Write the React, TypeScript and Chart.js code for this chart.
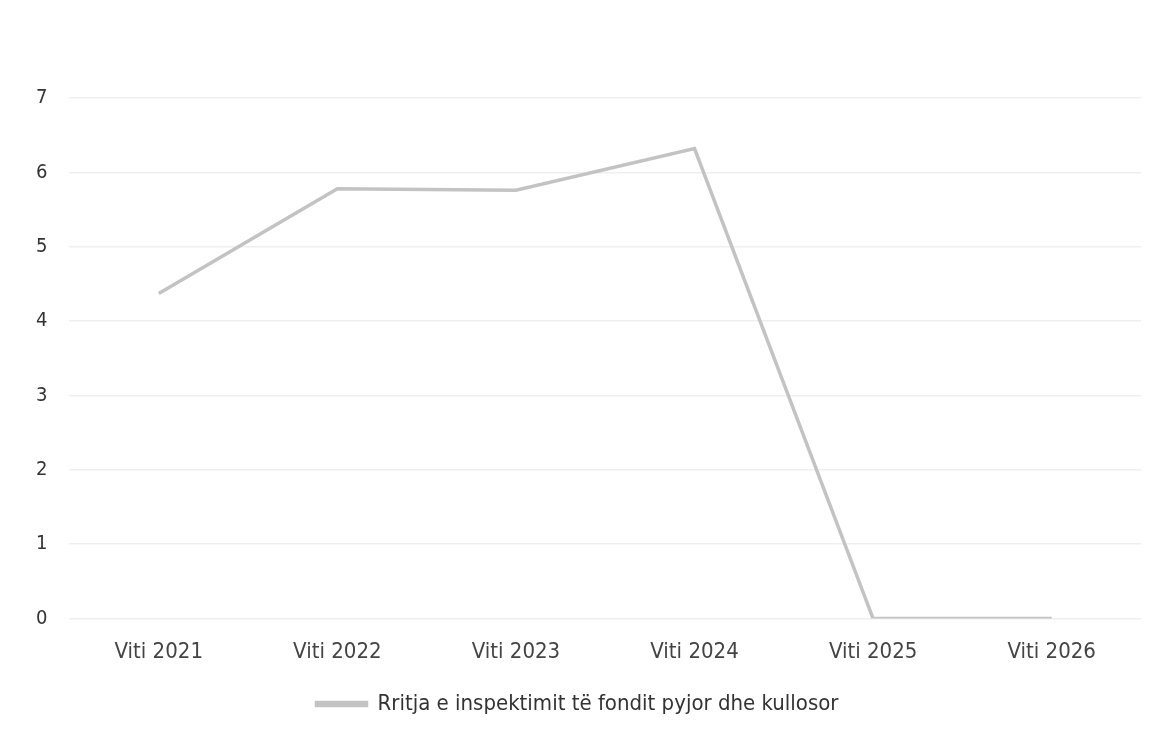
import React, { useEffect, useRef } from "react";
import { Chart, registerables } from "chart.js";

Chart.register(...registerables);

const categories = ["Viti 2021", "Viti 2022", "Viti 2023", "Viti 2024", "Viti 2025", "Viti 2026"];
const seriesLabel = "Rritja e inspektimit të fondit pyjor dhe kullosor";
const seriesValues = [4.37, 5.78, 5.76, 6.32, 0, 0];
const yTicks = [0, 1, 2, 3, 4, 5, 6, 7];

const FONT = "'DejaVu Sans Condensed', 'DejaVu Sans', sans-serif";

export default function App() {
  const ref = useRef<HTMLCanvasElement | null>(null);
  useEffect(() => {
    document.body.style.margin = "0";
    const ctx = ref.current!;
    const chart = new Chart(ctx, {
      type: "line",
      data: {
        labels: categories,
        datasets: [
          {
            label: seriesLabel,
            data: seriesValues,
            borderColor: "#c3c3c3",
            backgroundColor: "#c3c3c3",
            borderWidth: 3.5,
            pointRadius: 0,
            tension: 0,
          },
        ],
      },
      options: {
        animation: false,
        responsive: false,
        maintainAspectRatio: false,
        layout: { padding: { left: 14, right: 22, top: 98, bottom: 13 } },
        scales: {
          x: {
            offset: true,
            grid: { display: false },
            border: { display: false },
            ticks: { color: "#444", font: { family: FONT, size: 22 }, padding: 12 },
          },
          y: {
            min: 0,
            max: 7,
            afterBuildTicks: (axis: any) => {
              axis.ticks = yTicks.map((v) => ({ value: v }));
            },
            grid: { color: "#efefef", lineWidth: 1.5, drawTicks: false },
            border: { display: false },
            ticks: { color: "#333", font: { family: FONT, size: 20 }, padding: 22 },
          },
        },
        plugins: {
          legend: {
            position: "bottom",
            labels: {
              color: "#333",
              font: { family: FONT, size: 22 },
              boxWidth: 50,
              boxHeight: 3,
              padding: 16,
            },
          },
          tooltip: { enabled: false },
        },
      },
    });
    return () => chart.destroy();
  }, []);
  return <canvas ref={ref} width={1163} height={738} style={{ display: "block" }} />;
}
